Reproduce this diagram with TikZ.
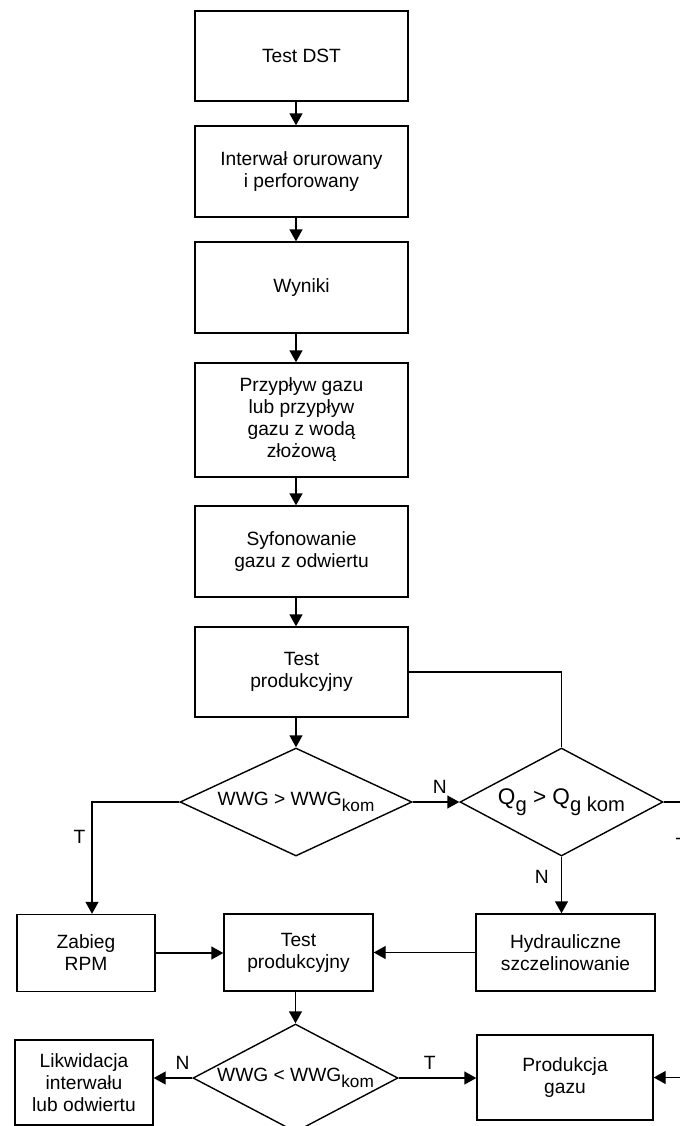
\documentclass[tikz,border=0pt]{standalone}
\usepackage{fontspec}
\setmainfont{Liberation Sans}
\usetikzlibrary{shapes.geometric,arrows.meta}
\newcommand{\lowtxt}[2][8.6]{\raisebox{-0.3em}{\fontsize{#1}{9}\selectfont #2}}

\begin{document}
\begin{tikzpicture}[x=0.5pt,y=-0.5pt,
		box/.style={draw, line width=0.7pt, align=center, inner sep=0pt},
		cond/.style={draw, diamond, aspect=2, line width=0.7pt, inner sep=0pt},
		arr/.style={-{Triangle[length=6pt,width=6.5pt]}, line width=0.7pt},
		lin/.style={line width=0.7pt},
		font=\fontsize{9.6}{11}\selectfont]
		
		\useasboundingbox (0,0) rectangle (680,1126);
		\clip (0,0) rectangle (680,1126);
		
		% glowna kolumna
		\node[box, minimum width=106.5pt, minimum height=45pt] (dst) at (301.5,56) {Test DST};
		\node[box, minimum width=106.5pt, minimum height=45.5pt] (intv) at (301.5,171.5) {Interwał orurowany\\i perforowany};
		\node[box, minimum width=106.5pt, minimum height=45.5pt] (wyn) at (301.5,287.5) {Wyniki};
		\node[box, minimum width=106.5pt, minimum height=57pt] (flow) at (301.5,420) {Przypływ gazu\\lub przypływ\\gazu z wodą\\złożową};
		\node[box, minimum width=106.5pt, minimum height=45.5pt] (syf) at (301.5,551.5) {Syfonowanie\\gazu z odwiertu};
		\node[box, minimum width=106.5pt, minimum height=45pt] (tp1) at (301.5,672) {Test\\produkcyjny};
		
		\node[cond, minimum width=116pt, minimum height=54pt] (d1) at (296,802) {WWG > WWG\lowtxt{kom}};
		\node[cond, minimum width=101.5pt, minimum height=54pt, font=\fontsize{11.3}{13}\selectfont] (d2) at (561.5,802) {Q\lowtxt[10.1]{g} > Q\lowtxt[10.1]{g kom}};
		
		\node[box, minimum width=69pt, minimum height=38.5pt] (zab) at (86,953) {Zabieg\\RPM};
		\node[box, minimum width=74.5pt, minimum height=38.5pt] (tp2) at (298.5,952.5) {Test\\produkcyjny};
		\node[box, minimum width=89.5pt, minimum height=38.5pt] (hydr) at (565.5,952.5) {Hydrauliczne\\szczelinowanie};
		
		\node[cond, minimum width=102.5pt, minimum height=54pt] (d3) at (295.5,1078) {WWG < WWG\lowtxt{kom}};
		\node[box, minimum width=69pt, minimum height=42.5pt] (likw) at (84,1082.5) {Likwidacja\\interwału\\lub odwiertu};
		\node[box, minimum width=88pt, minimum height=42.5pt] (prod) at (565,1077.5) {Produkcja\\gazu};
		
		\coordinate (ret) at (694,0);
		
		% polaczenia
		\draw[arr] (dst.south -| d1.north) -- (intv.north -| d1.north);
		\draw[arr] (intv.south -| d1.north) -- (wyn.north -| d1.north);
		\draw[arr] (wyn.south -| d1.north) -- (flow.north -| d1.north);
		\draw[arr] (flow.south -| d1.north) -- (syf.north -| d1.north);
		\draw[arr] (syf.south -| d1.north) -- (tp1.north -| d1.north);
		\draw[arr] (tp1.south -| d1.north) -- (d1.north);
		\draw[lin] (tp1.east) -| (d2.north);
		
		\draw[arr] (d1.east) -- (d2.west) node[pos=0.58, above, inner sep=4pt] {N};
		\draw[arr] (d1.west) -| ([xshift=3pt]zab.north) node[pos=0.655, left, inner sep=3pt] {T};
		\draw[arr] (d2.south) -- (d2.south |- hydr.north) node[pos=0.36, left, inner sep=6pt] {N};
		\draw[arr] (d2.east) -- (ret |- d2.east) -- (ret |- prod.east) node[pos=0.155, left, inner sep=3pt] {T} -- (prod.east);
		
		\draw[arr] (zab.east) -- (zab.east -| tp2.west);
		\draw[arr] (hydr.west) -- (tp2.east);
		\draw[arr] (tp2.south -| d3.north) -- (d3.north);
		
		\draw[arr] (d3.west) -- (d3.west -| likw.east) node[pos=0.25, above, inner sep=4pt] {N};
		\draw[arr] (d3.east) -- (d3.east -| prod.west) node[pos=0.4, above, inner sep=4pt] {T};
	\end{tikzpicture}
\end{document}
